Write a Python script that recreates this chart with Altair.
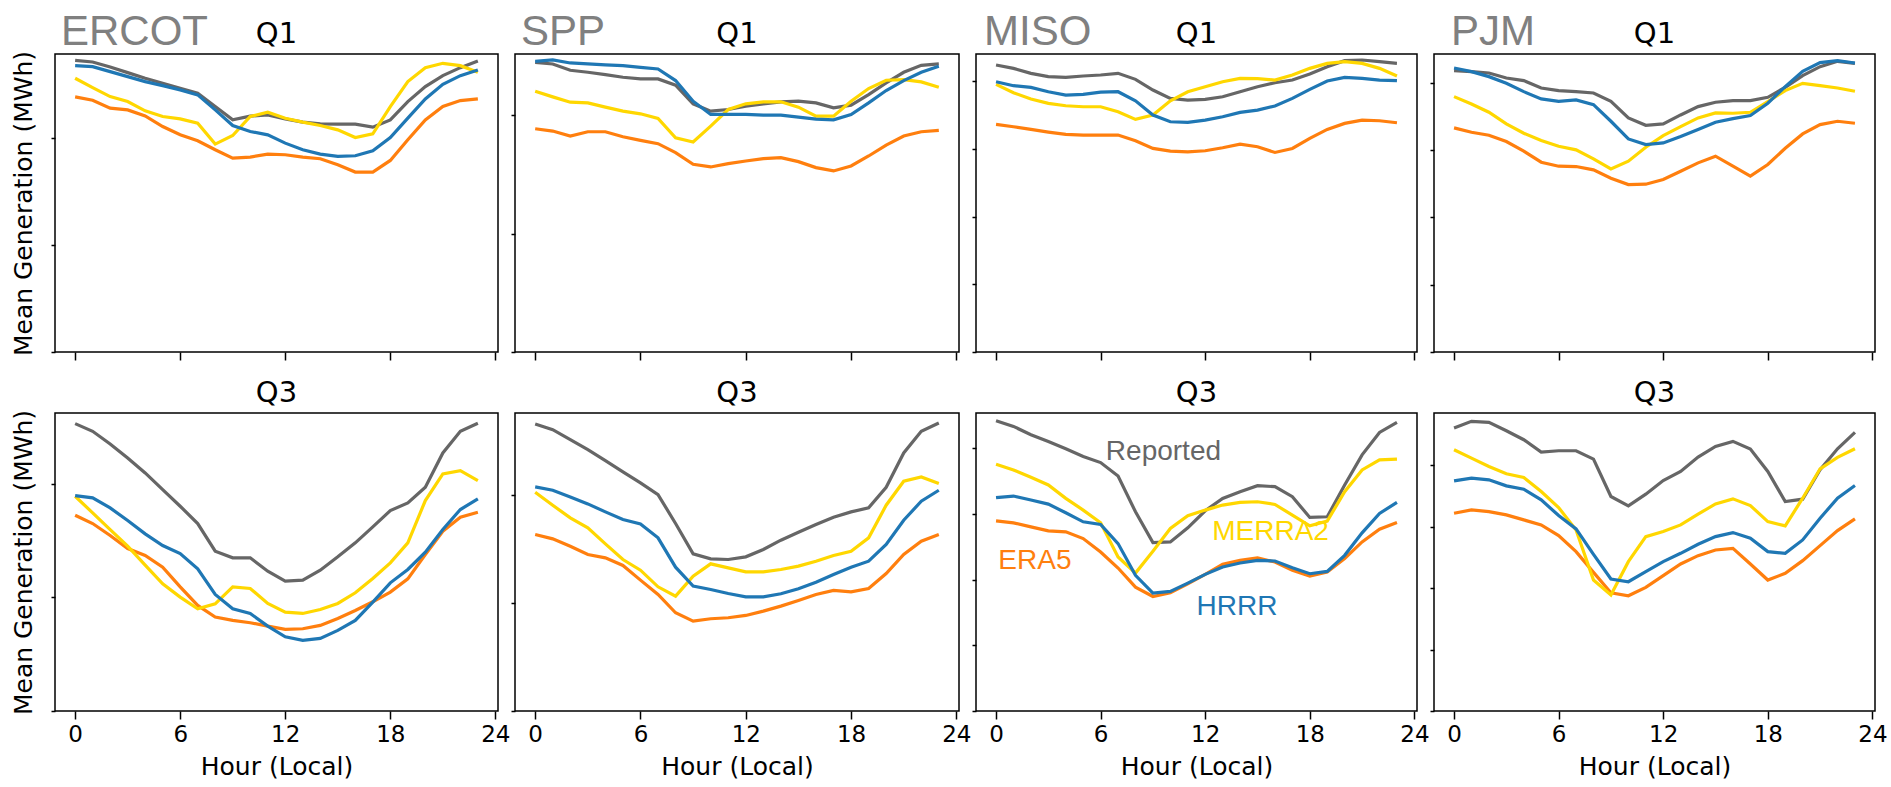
import altair as alt
import pandas as pd

HOURS = list(range(24))
SERIES = ["Reported", "ERA5", "MERRA2", "HRRR"]
COLORS = ["#666666", "#ff7f0e", "#ffd700", "#1f77b4"]
REGIONS = ["ERCOT", "SPP", "MISO", "PJM"]
QUARTERS = ["Q1", "Q3"]

# Mean generation (arbitrary units, y axis is unlabeled), hours 0..23
ercot_q1_reported = [877, 872, 857, 840, 823, 808, 793, 778, 738, 698, 709, 713, 701, 691, 686, 685, 685, 676, 698, 753, 798, 831, 855, 875]
ercot_q1_hrrr = [861, 858, 843, 828, 813, 801, 788, 773, 728, 681, 663, 653, 628, 608, 595, 588, 590, 605, 645, 703, 761, 805, 831, 848]
ercot_q1_merra2 = [823, 795, 768, 753, 725, 708, 701, 688, 625, 651, 708, 721, 703, 691, 681, 668, 645, 656, 738, 813, 855, 868, 861, 841]
ercot_q1_era5 = [767, 757, 733, 728, 710, 678, 653, 635, 608, 583, 586, 595, 593, 586, 581, 563, 541, 541, 576, 638, 698, 738, 756, 761]

spp_q1_reported = [872, 867, 848, 842, 835, 827, 822, 822, 803, 747, 725, 730, 740, 747, 753, 755, 750, 735, 743, 775, 810, 842, 863, 867]
spp_q1_hrrr = [875, 879, 870, 867, 864, 862, 857, 852, 817, 755, 715, 715, 715, 713, 713, 707, 701, 699, 715, 750, 787, 817, 842, 860]
spp_q1_merra2 = [785, 768, 752, 750, 737, 725, 717, 703, 645, 632, 680, 730, 747, 753, 753, 737, 710, 710, 755, 793, 818, 820, 813, 797]
spp_q1_era5 = [672, 665, 650, 663, 663, 648, 637, 627, 600, 565, 557, 567, 575, 582, 585, 573, 555, 545, 560, 590, 623, 650, 663, 667]

miso_q1_reported = [860, 850, 835, 825, 823, 827, 830, 835, 817, 785, 760, 755, 757, 765, 780, 795, 807, 815, 833, 855, 873, 875, 870, 865]
miso_q1_hrrr = [810, 798, 793, 780, 770, 772, 779, 780, 753, 710, 690, 688, 695, 705, 718, 725, 737, 760, 787, 812, 823, 820, 815, 813]
miso_q1_merra2 = [802, 777, 758, 745, 738, 735, 735, 720, 697, 710, 753, 780, 795, 810, 820, 819, 815, 830, 850, 865, 870, 865, 850, 827]
miso_q1_era5 = [682, 675, 667, 659, 652, 650, 650, 650, 633, 610, 602, 600, 603, 612, 623, 615, 598, 610, 640, 667, 685, 695, 693, 687]

pjm_q1_reported = [845, 842, 838, 823, 815, 793, 785, 782, 778, 753, 703, 681, 685, 712, 737, 750, 755, 755, 765, 795, 830, 857, 873, 867]
pjm_q1_hrrr = [853, 842, 827, 807, 782, 760, 753, 757, 743, 693, 640, 623, 628, 647, 668, 690, 701, 710, 747, 797, 843, 869, 875, 868]
pjm_q1_merra2 = [767, 745, 720, 685, 657, 635, 618, 607, 580, 550, 573, 615, 650, 677, 703, 718, 717, 720, 752, 785, 807, 800, 793, 783]
pjm_q1_era5 = [673, 660, 651, 632, 603, 570, 558, 557, 547, 522, 503, 504, 518, 543, 568, 588, 558, 528, 563, 612, 655, 683, 693, 687]

ercot_q3_reported = [863, 840, 802, 760, 715, 665, 615, 563, 480, 460, 460, 420, 390, 393, 423, 463, 505, 553, 602, 625, 672, 775, 840, 864]
ercot_q3_hrrr = [647, 640, 610, 572, 532, 497, 473, 427, 350, 307, 293, 255, 223, 212, 218, 242, 272, 327, 385, 425, 477, 545, 605, 637]
ercot_q3_merra2 = [645, 595, 545, 495, 438, 382, 342, 307, 322, 373, 368, 323, 297, 293, 305, 323, 355, 398, 445, 505, 632, 712, 722, 692]
ercot_q3_era5 = [588, 563, 527, 488, 467, 432, 373, 317, 282, 272, 265, 255, 245, 247, 257, 278, 302, 328, 357, 397, 470, 540, 582, 597]

spp_q3_reported = [862, 845, 815, 785, 752, 718, 685, 650, 563, 472, 457, 455, 463, 485, 513, 537, 560, 582, 598, 610, 672, 775, 840, 865]
spp_q3_hrrr = [673, 663, 643, 622, 598, 575, 562, 520, 432, 375, 365, 353, 343, 343, 352, 367, 387, 410, 432, 450, 500, 573, 630, 663]
spp_q3_merra2 = [657, 618, 580, 550, 502, 455, 423, 373, 345, 405, 442, 430, 418, 418, 425, 435, 450, 467, 480, 520, 618, 690, 703, 683]
spp_q3_era5 = [530, 517, 495, 470, 460, 437, 393, 350, 295, 270, 277, 280, 287, 300, 315, 332, 350, 362, 358, 368, 413, 470, 510, 530]

miso_q3_reported = [867, 850, 825, 805, 783, 760, 742, 702, 595, 503, 505, 547, 598, 635, 655, 673, 670, 640, 578, 580, 675, 765, 832, 862]
miso_q3_hrrr = [637, 642, 630, 618, 592, 565, 557, 500, 405, 352, 357, 382, 408, 430, 442, 450, 448, 428, 410, 417, 465, 532, 590, 623]
miso_q3_merra2 = [737, 720, 698, 675, 635, 600, 562, 460, 412, 477, 545, 583, 600, 615, 623, 625, 617, 585, 553, 567, 655, 720, 750, 752]
miso_q3_era5 = [568, 562, 550, 538, 535, 515, 475, 427, 370, 342, 353, 380, 408, 438, 450, 457, 445, 420, 403, 415, 455, 505, 543, 563]

pjm_q3_reported = [847, 867, 864, 839, 812, 775, 779, 779, 754, 642, 614, 649, 690, 717, 760, 792, 807, 784, 717, 627, 634, 722, 785, 834]
pjm_q3_hrrr = [689, 697, 692, 674, 664, 632, 585, 545, 469, 395, 387, 417, 447, 472, 499, 522, 534, 517, 477, 472, 512, 577, 637, 675]
pjm_q3_merra2 = [782, 757, 732, 710, 699, 657, 609, 542, 392, 347, 447, 522, 537, 557, 589, 620, 635, 615, 567, 554, 637, 725, 759, 785]
pjm_q3_era5 = [592, 602, 597, 587, 572, 557, 525, 477, 415, 354, 345, 370, 405, 440, 465, 482, 487, 440, 392, 412, 450, 495, 540, 575]

PANEL_DATA = {
    ("ERCOT", "Q1"): (ercot_q1_reported, ercot_q1_era5, ercot_q1_merra2, ercot_q1_hrrr),
    ("SPP", "Q1"): (spp_q1_reported, spp_q1_era5, spp_q1_merra2, spp_q1_hrrr),
    ("MISO", "Q1"): (miso_q1_reported, miso_q1_era5, miso_q1_merra2, miso_q1_hrrr),
    ("PJM", "Q1"): (pjm_q1_reported, pjm_q1_era5, pjm_q1_merra2, pjm_q1_hrrr),
    ("ERCOT", "Q3"): (ercot_q3_reported, ercot_q3_era5, ercot_q3_merra2, ercot_q3_hrrr),
    ("SPP", "Q3"): (spp_q3_reported, spp_q3_era5, spp_q3_merra2, spp_q3_hrrr),
    ("MISO", "Q3"): (miso_q3_reported, miso_q3_era5, miso_q3_merra2, miso_q3_hrrr),
    ("PJM", "Q3"): (pjm_q3_reported, pjm_q3_era5, pjm_q3_merra2, pjm_q3_hrrr),
}

# y-axis upper limits and tick positions (unlabeled) per panel
Y_MAX = {
    ("ERCOT", "Q1"): 896, ("SPP", "Q1"): 897, ("MISO", "Q1"): 893, ("PJM", "Q1"): 895,
    ("ERCOT", "Q3"): 895, ("SPP", "Q3"): 895, ("MISO", "Q3"): 890, ("PJM", "Q3"): 892,
}
Y_TICKS = {
    ("ERCOT", "Q1"): [0, 321, 642], ("SPP", "Q1"): [0, 356, 712],
    ("MISO", "Q1"): [0, 203, 406, 609, 812], ("PJM", "Q1"): [0, 202, 404, 606, 808],
    ("ERCOT", "Q3"): [0, 341, 682], ("SPP", "Q3"): [0, 324, 648],
    ("MISO", "Q3"): [0, 196, 392, 588, 784], ("PJM", "Q3"): [0, 184, 368, 552, 736],
}
PANEL_W = [443, 444, 441, 441]
LABEL_DX = [6, 6, 8, 17]

# in-plot annotations (MISO Q3)
ANN_TEXT = ["Reported", "MERRA2", "ERA5", "HRRR"]
ANN_HOUR = [6.3, 12.4, 0.13, 11.5]
ANN_VAL = [751, 511, 424, 286]
ANN_COLOR = ["#666666", "#ffd700", "#ff7f0e", "#1f77b4"]

X_DOMAIN = [-1.15, 24.15]
HEIGHT = 298


def panel(ci, region, quarter):
    key = (region, quarter)
    rows = []
    for s, vals in zip(SERIES, PANEL_DATA[key]):
        for h, v in zip(HOURS, vals):
            rows.append({"hour": h, "value": v, "series": s})
    df = pd.DataFrame(rows)
    bottom = quarter == "Q3"

    x_axis = alt.Axis(
        values=[0, 6, 12, 18, 24], tickSize=8, labels=bottom, grid=False, domain=False,
        tickColor="black", tickWidth=1.5, labelFontSize=23, labelFont="DejaVu Sans",
        labelColor="black", labelPadding=4, labelFlush=False,
        title="Hour (Local)" if bottom else None,
        titleFontSize=25, titleFont="DejaVu Sans", titleFontWeight="normal",
        titleColor="black", titlePadding=8,
    )
    y_axis = alt.Axis(
        values=Y_TICKS[key], tickSize=4, labels=False, grid=False, domain=False,
        tickColor="black", tickWidth=1.5,
        title="Mean Generation (MWh)" if ci == 0 else None,
        titleFontSize=25, titleFont="DejaVu Sans", titleFontWeight="normal",
        titleColor="black", titlePadding=14,
    )

    lines = alt.Chart(df).mark_line(strokeWidth=3.2).encode(
        x=alt.X("hour:Q", scale=alt.Scale(domain=X_DOMAIN, nice=False, zero=False), axis=x_axis),
        y=alt.Y("value:Q", scale=alt.Scale(domain=[0, Y_MAX[key]], nice=False, zero=False), axis=y_axis),
        color=alt.Color("series:N", scale=alt.Scale(domain=SERIES, range=COLORS), legend=None),
        order=alt.Order("hour:Q"),
    )
    layers = [lines]

    # panel heading (quarter), centred above the plot
    qlab = alt.Chart(pd.DataFrame({"t": [quarter]})).mark_text(
        align="center", baseline="alphabetic", fontSize=29, font="DejaVu Sans", color="black",
    ).encode(text="t:N", x=alt.value(PANEL_W[ci] / 2), y=alt.value(-11))
    layers.append(qlab)

    if quarter == "Q1":
        lab = alt.Chart(pd.DataFrame({"t": [region]})).mark_text(
            align="left", baseline="alphabetic", fontSize=42, font="Liberation Sans",
            color="#808080",
        ).encode(text="t:N", x=alt.value(LABEL_DX[ci]), y=alt.value(-9))
        layers.append(lab)

    if key == ("MISO", "Q3"):
        ann = pd.DataFrame({"t": ANN_TEXT, "hour": ANN_HOUR, "value": ANN_VAL, "c": ANN_COLOR})
        txt = alt.Chart(ann).mark_text(
            align="left", baseline="alphabetic", fontSize=28, font="Liberation Sans",
        ).encode(
            x="hour:Q", y="value:Q", text="t:N",
            color=alt.Color("c:N", scale=None),
        )
        layers.append(txt)

    return alt.layer(*layers).properties(width=PANEL_W[ci], height=HEIGHT)


panels = [panel(ci, r, q) for q in QUARTERS for ci, r in enumerate(REGIONS)]

chart = alt.concat(
    *panels, columns=4, spacing=alt.RowColnumber(row=61, column=17), bounds="flush"
).properties(
    padding={"left": 10, "top": 10, "right": 0, "bottom": 0},
    background="white",
).configure_view(
    stroke="black", strokeWidth=1.5
)

chart.save("out.html", embed_options={"renderer": "svg", "actions": False})
